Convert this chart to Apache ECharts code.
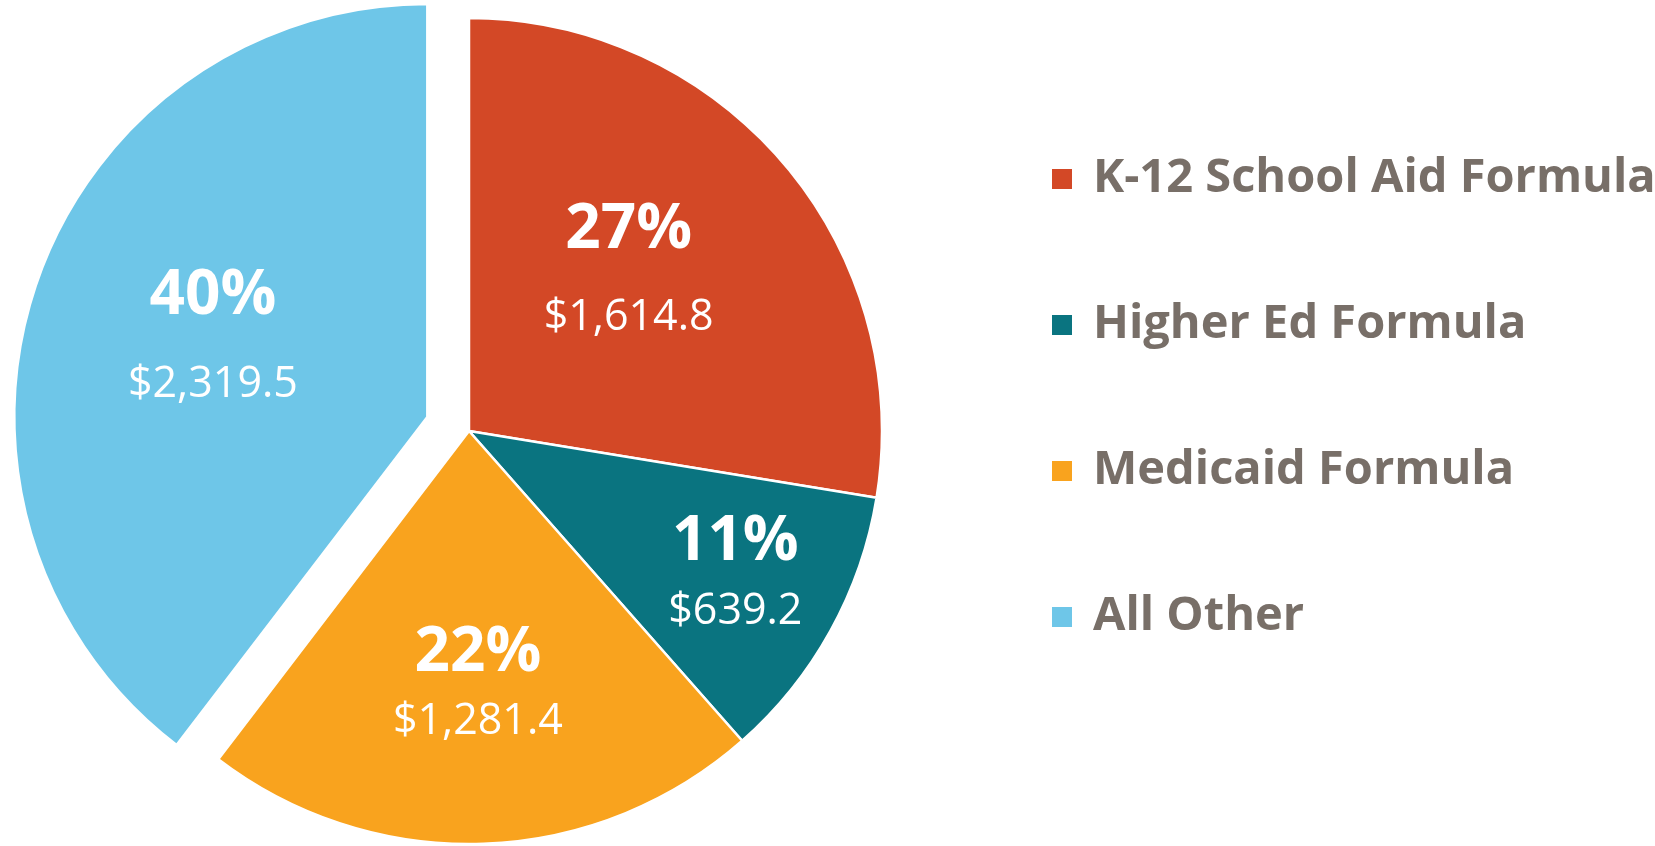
<!DOCTYPE html>
<html>
<head>
<meta charset="utf-8">
<title>Formula spending</title>
<script src="https://cdn.jsdelivr.net/npm/echarts@6/dist/echarts.min.js"></script>
<style>
  html, body { margin: 0; padding: 0; background: #fff; }
  #main { width: 1655px; height: 846px; }
</style>
</head>
<body>
<div id="main"></div>
<script>
// data ($ millions)
var categories = ['K-12 School Aid Formula', 'Higher Ed Formula', 'Medicaid Formula', 'All Other'];
var amounts = [1614.8, 639.2, 1281.4, 2319.5];
var pctLabels = ['27%', '11%', '22%', '40%'];
var colors = ['#D34826', '#0A7480', '#F9A31E', '#6EC6E8'];

// layout
var center = [469, 431];
var radius = 413;
var explodeOffset = 44;
var labelRadius = [0.55, 0.73, 0.61, 0.555]; // fraction of radius, per slice
var labelNudge = [-5, -1, 0, 2];             // degrees, per slice
var labelTight = [false, true, true, false];  // smaller gap between the two label lines

var total = amounts.reduce(function (a, b) { return a + b; }, 0);

function fmtMoney(v) {
    return '$' + v.toLocaleString('en-US', {minimumFractionDigits: 1, maximumFractionDigits: 1});
}

var seriesData = categories.map(function (name, i) {
    return {
        name: name,
        value: amounts[i],
        selected: i === 3,
        itemStyle: {color: colors[i]}
    };
});

var pctStyle = {
    color: '#fff',
    fontFamily: 'Open Sans',
    fontWeight: 'bold',
    fontSize: 62,
    lineHeight: 80,
    align: 'center'
};
var moneyStyle = {
    color: '#fff',
    fontFamily: 'Open Sans',
    fontSize: 43,
    align: 'center'
};

var myChart = echarts.init(document.getElementById('main'));

var option = {
    backgroundColor: '#fff',
    animation: false,
    legend: {
        orient: 'vertical',
        left: 1050,
        top: 155,
        padding: 0,
        itemWidth: 22,
        itemHeight: 22,
        itemGap: 98,
        icon: 'rect',
        selectedMode: false,
        data: categories,
        textStyle: {
            color: '#786F68',
            fontFamily: 'Open Sans',
            fontWeight: 'bold',
            fontSize: 47,
            lineHeight: 48,
            padding: [0, 0, 0, 15]
        }
    },
    series: [{
        type: 'pie',
        center: center,
        radius: radius,
        startAngle: 90,
        clockwise: true,
        selectedMode: 'single',
        selectedOffset: explodeOffset,
        emphasis: {disabled: true},
        itemStyle: {
            borderColor: '#fff',
            borderWidth: 2.5
        },
        label: {
            position: 'inside',
            formatter: function (p) {
                var b = labelTight[p.dataIndex] ? 'bt' : 'bw';
                return '{a|' + pctLabels[p.dataIndex] + '}\n{' + b + '|' + fmtMoney(p.value) + '}';
            },
            rich: {
                a: pctStyle,
                bw: Object.assign({}, moneyStyle, {lineHeight: 96}),
                bt: Object.assign({}, moneyStyle, {lineHeight: 58})
            }
        },
        labelLine: {show: false},
        // push each label to where the original sits inside its slice
        labelLayout: function (params) {
            var i = params.dataIndex;
            var cum = 0;
            for (var k = 0; k < i; k++) cum += amounts[k];
            var mid = (cum + amounts[i] / 2) / total * 360;
            var lr = (mid + labelNudge[i]) * Math.PI / 180;
            var tx = center[0] + Math.sin(lr) * labelRadius[i] * radius;
            var ty = center[1] - Math.cos(lr) * labelRadius[i] * radius;
            var r = params.labelRect;
            return {
                dx: tx - (r.x + r.width / 2),
                dy: ty - (r.y + r.height / 2)
            };
        },
        data: seriesData
    }]
};

myChart.setOption(option);
</script>
</body>
</html>
